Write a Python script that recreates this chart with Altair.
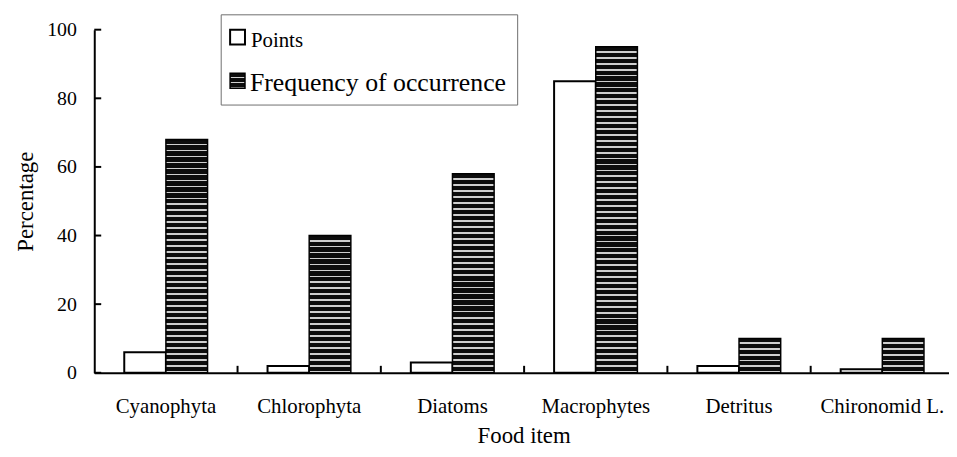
import altair as alt
import pandas as pd

categories = ["Cyanophyta", "Chlorophyta", "Diatoms", "Macrophytes", "Detritus", "Chironomid L."]
series = ["Points", "Frequency of occurrence"]
points = [6, 2, 3, 85, 2, 1]
frequency = [68, 40, 58, 95, 10, 10]
y_ticks = [0, 20, 40, 60, 80, 100]

FONT = "Liberation Serif"
PLOT_W = 862
PLOT_H = 346
RANGE_W = 867
DARK = "#0d0d0d"
LIGHT = "#cfcfcf"

df = pd.DataFrame({
    "Food item": categories * 2,
    "Series": [series[0]] * len(categories) + [series[1]] * len(categories),
    "Percentage": points + frequency,
})


def stripes(n, frac=0.3):
    stops = []
    for i in range(n):
        a = i / n
        b = (i + 1 - frac) / n
        c = (i + 1) / n
        stops += [
            alt.GradientStop(offset=a, color=DARK),
            alt.GradientStop(offset=b, color=DARK),
            alt.GradientStop(offset=b, color=LIGHT),
            alt.GradientStop(offset=c, color=LIGHT),
        ]
    return alt.LinearGradient(gradient="linear", stops=stops, x1=0, x2=0, y1=0, y2=1)


x_axis = alt.Axis(
    title="Food item", labelAngle=0, ticks=False, tickSize=0, grid=False,
    domainColor="black", domainWidth=2, labelFont=FONT, labelFontSize=21,
    labelColor="black", labelBaseline="alphabetic", labelPadding=40,
    titleFont=FONT, titleFontSize=23, titleFontWeight="normal", titleColor="black",
    titleX=433, titleY=70, titleBaseline="alphabetic", titleAlign="center", titleAnchor="middle",
)
y_axis = alt.Axis(
    title="Percentage", values=y_ticks, ticks=False, tickSize=0, grid=False,
    domainColor="black", domainWidth=2, labelFont=FONT, labelFontSize=20,
    labelColor="black", labelPadding=18,
    titleFont=FONT, titleFontSize=23, titleFontWeight="normal", titleColor="black",
    titleX=-62, titleY=PLOT_H / 2, titleAngle=270, titleBaseline="alphabetic",
    titleAlign="center", titleAnchor="middle",
)
x_scale = alt.Scale(domain=categories, range=[0, RANGE_W], paddingInner=0, paddingOuter=0)
y_scale = alt.Scale(domain=[0, 100], nice=False)


def X(**kw):
    return alt.X("Food item:N", sort=categories, scale=x_scale, axis=x_axis, **kw)


def Y():
    return alt.Y("Percentage:Q", scale=y_scale, axis=y_axis)


xo_enc = alt.XOffset("Series:N", sort=series,
                     scale=alt.Scale(domain=series, paddingInner=0, paddingOuter=0.72))

base = alt.Chart(df)

points_layer = base.transform_filter(alt.datum.Series == series[0]).mark_bar(
    fill="white", stroke="black", strokeWidth=2
).encode(x=X(), y=Y(), xOffset=xo_enc)

freq_layers = []
for cat, val in zip(categories, frequency):
    n = max(1, round(val * PLOT_H / 100 / 6))
    lay = base.transform_filter(
        (alt.datum.Series == series[1]) & (alt.datum["Food item"] == cat)
    ).mark_bar(color=stripes(n), stroke="black", strokeWidth=1.5).encode(
        x=X(), y=Y(), xOffset=xo_enc,
    )
    freq_layers.append(lay)

ytick_layer = alt.Chart(pd.DataFrame({"Percentage": y_ticks})).mark_rule(
    color="black", strokeWidth=2
).encode(y=Y(), x=alt.value(0), x2=alt.value(7))

xtick_layer = alt.Chart(pd.DataFrame({"Food item": categories[1:]})).mark_rule(
    color="black", strokeWidth=2
).encode(
    x=X(bandPosition=0),
    y=alt.value(PLOT_H - 7), y2=alt.value(PLOT_H),
)

one = alt.Data(values=[{"k": 1}])
legend_box = alt.Chart(one).mark_rect(fill="white", stroke="#6e6e6e", strokeWidth=1).encode(
    x=alt.value(128), x2=alt.value(427), y=alt.value(-15), y2=alt.value(76)
)
legend_sw1 = alt.Chart(one).mark_rect(fill="white", stroke="black", strokeWidth=2).encode(
    x=alt.value(137), x2=alt.value(152), y=alt.value(0), y2=alt.value(15)
)
legend_sw2 = alt.Chart(one).mark_rect(color=stripes(3), stroke="black", strokeWidth=1.5).encode(
    x=alt.value(137), x2=alt.value(152), y=alt.value(44), y2=alt.value(59)
)
legend_t1 = alt.Chart(one).mark_text(
    align="left", baseline="alphabetic", font=FONT, fontSize=21, color="black"
).encode(x=alt.value(158), y=alt.value(17), text=alt.value(series[0]))
legend_t2 = alt.Chart(one).mark_text(
    align="left", baseline="alphabetic", font=FONT, fontSize=26, color="black"
).encode(x=alt.value(157), y=alt.value(62), text=alt.value(series[1]))

chart = alt.layer(
    points_layer, *freq_layers, ytick_layer, xtick_layer,
    legend_box, legend_sw1, legend_sw2, legend_t1, legend_t2,
).properties(
    width=PLOT_W, height=PLOT_H,
    autosize=alt.AutoSizeParams(type="none"),
    padding={"left": 87, "top": 20, "right": 0, "bottom": 75},
    background="white",
).configure_view(stroke=None)

chart.save("out.html", embed_options={"renderer": "svg", "actions": False})
